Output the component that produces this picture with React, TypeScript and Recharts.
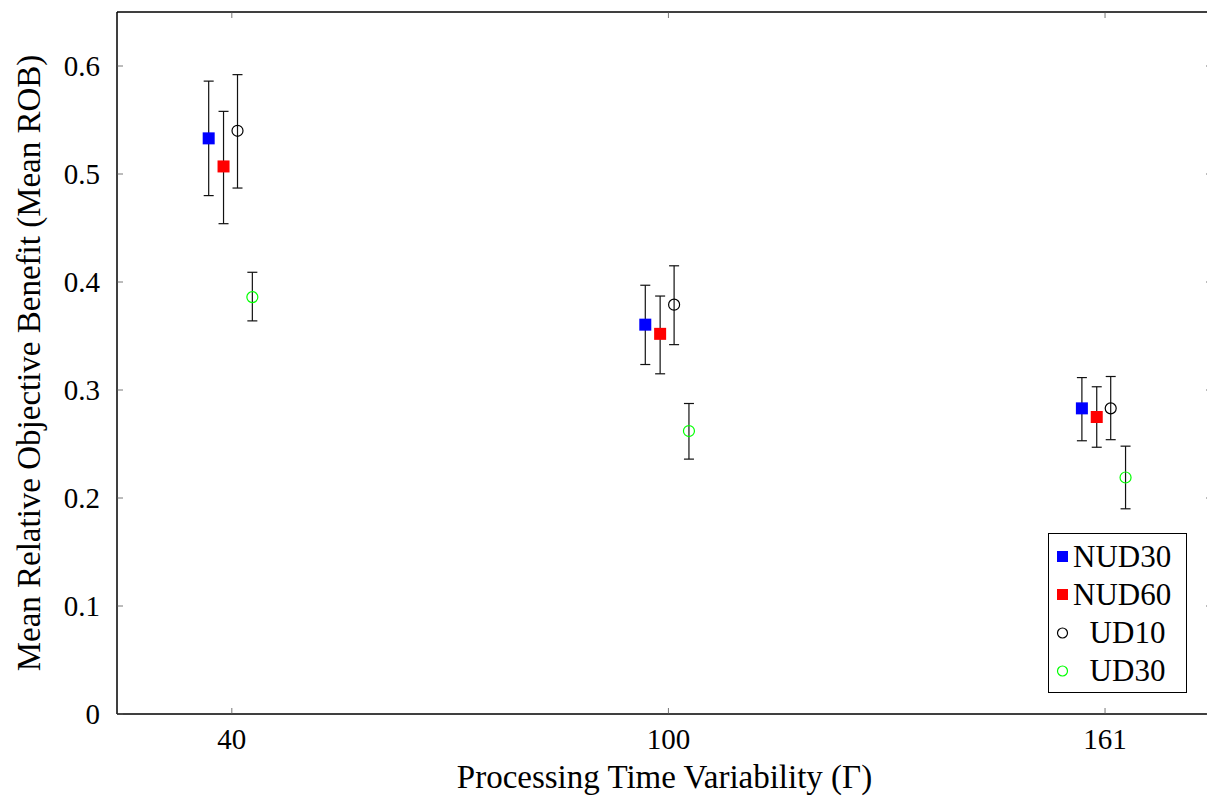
import React from 'react';
import { ComposedChart, Scatter, XAxis, YAxis, ErrorBar, ReferenceArea } from 'recharts';

// ---- data ----
const categories = ['40', '100', '161'];
const yTicks = [0, 0.1, 0.2, 0.3, 0.4, 0.5, 0.6];

const nud30Mean = [0.533, 0.3605, 0.283];
const nud30Low = [0.48, 0.3236, 0.253];
const nud30High = [0.586, 0.397, 0.3115];

const nud60Mean = [0.507, 0.352, 0.275];
const nud60Low = [0.454, 0.315, 0.247];
const nud60High = [0.558, 0.387, 0.303];

const ud10Mean = [0.54, 0.379, 0.283];
const ud10Low = [0.487, 0.342, 0.254];
const ud10High = [0.592, 0.415, 0.3125];

const ud30Mean = [0.386, 0.262, 0.219];
const ud30Low = [0.364, 0.236, 0.19];
const ud30High = [0.409, 0.2875, 0.248];

type Series = {
  name: string;
  color: string;
  shape: 'square' | 'circle';
  shift: number;
  mean: number[];
  low: number[];
  high: number[];
};

const series: Series[] = [
  { name: 'NUD30', color: '#0000ff', shape: 'square', shift: -0.053, mean: nud30Mean, low: nud30Low, high: nud30High },
  { name: 'NUD60', color: '#ff0000', shape: 'square', shift: -0.019, mean: nud60Mean, low: nud60Low, high: nud60High },
  { name: 'UD10', color: '#000000', shape: 'circle', shift: 0.013, mean: ud10Mean, low: ud10Low, high: ud10High },
  { name: 'UD30', color: '#00ff00', shape: 'circle', shift: 0.047, mean: ud30Mean, low: ud30Low, high: ud30High },
];

const buildData = (s: Series) =>
  categories.map((_, i) => ({
    x: i + s.shift,
    y: s.mean[i],
    err: [s.mean[i] - s.low[i], s.high[i] - s.mean[i]],
  }));

const FONT = '"Liberation Serif", "Times New Roman", serif';
const X_DOMAIN: [number, number] = [-0.263, 2.245];
const Y_DOMAIN: [number, number] = [0, 0.65];

const makeShape = (s: Series) => (props: any) => {
  const { cx, cy } = props;
  if (cx == null || cy == null) return <g />;
  if (s.shape === 'square') {
    return <rect x={cx - 6} y={cy - 6} width={12} height={12} fill={s.color} />;
  }
  return <circle cx={cx} cy={cy} r={5.5} fill="none" stroke={s.color} strokeWidth={1.2} />;
};

const LegendBox = () => (
  <div
    style={{
      position: 'absolute',
      left: 1040,
      top: 525,
      border: '1px solid #000',
      background: '#fff',
      width: 137,
      height: 158,
      fontFamily: FONT,
      fontSize: 31,
      color: '#000',
    }}
  >
    {series.map((s, i) => (
      <div
        key={s.name}
        style={{ position: 'absolute', left: 0, top: 4 + i * 38, height: 38, width: 137, display: 'flex', alignItems: 'center' }}
      >
        <svg width={24} height={38} style={{ flex: 'none' }}>
          {s.shape === 'square' ? (
            <rect x={8} y={13} width={11} height={11} fill={s.color} />
          ) : (
            <circle cx={13.5} cy={19} r={5} fill="none" stroke={s.color} strokeWidth={1.2} />
          )}
        </svg>
        <span style={{ flex: 1, textAlign: s.shape === 'square' ? 'left' : 'center', paddingRight: s.shape === 'square' ? 0 : 4, lineHeight: '38px', whiteSpace: 'nowrap' }}>
          {s.name}
        </span>
      </div>
    ))}
  </div>
);

const emptyTick = () => <g />;

const YLabel = (props: any) => {
  const vb = props.viewBox || {};
  const cy = (vb.y ?? 3) + (vb.height ?? 703) / 2;
  const cx = 21;
  return (
    <text
      x={cx}
      y={cy}
      transform={`rotate(-90, ${cx}, ${cy})`}
      textAnchor="middle"
      dominantBaseline="central"
      fill="#000"
      fontFamily={FONT}
      fontSize={33}
    >
      Mean Relative Objective Benefit (Mean ROB)
    </text>
  );
};

export default function App() {
  return (
    <div style={{ position: 'relative', width: 1207, height: 796, background: '#fff' }}>
      <ComposedChart width={1207} height={796} margin={{ top: 3, right: 2, bottom: 0, left: 0 }}>
        <XAxis
          type="number"
          dataKey="x"
          domain={X_DOMAIN}
          allowDataOverflow
          ticks={[0, 1, 2]}
          tickFormatter={(v: number) => categories[Math.round(v)]}
          tickSize={-6}
          tickMargin={20}
          height={90}
          tick={{ fill: '#000', fontFamily: FONT, fontSize: 29 }}
          axisLine={{ stroke: '#000', strokeWidth: 1 }}
          tickLine={{ stroke: '#555', strokeWidth: 0.8 }}
          label={{ value: 'Processing Time Variability (Γ)', position: 'insideBottom', offset: 16, fill: '#000', fontFamily: FONT, fontSize: 33 }}
        />
        <XAxis
          xAxisId="top"
          orientation="top"
          type="number"
          dataKey="x"
          domain={X_DOMAIN}
          allowDataOverflow
          ticks={[0, 1, 2]}
          tickSize={-6}
          height={1}
          tick={emptyTick}
          axisLine={{ stroke: '#000', strokeWidth: 1 }}
          tickLine={{ stroke: '#555', strokeWidth: 0.8 }}
        />
        <YAxis
          type="number"
          domain={Y_DOMAIN}
          allowDataOverflow
          ticks={yTicks}
          tickFormatter={(v: number) => (v === 0 ? '0' : v.toFixed(1))}
          tickSize={-6}
          tickMargin={23}
          width={109}
          tick={{ fill: '#000', fontFamily: FONT, fontSize: 29 }}
          axisLine={{ stroke: '#000', strokeWidth: 1 }}
          tickLine={{ stroke: '#555', strokeWidth: 0.8 }}
          label={<YLabel />}
        />
        <YAxis
          yAxisId="right"
          orientation="right"
          type="number"
          domain={Y_DOMAIN}
          allowDataOverflow
          ticks={yTicks}
          tickSize={-6}
          width={1}
          tick={emptyTick}
          axisLine={{ stroke: '#000', strokeWidth: 1 }}
          tickLine={{ stroke: '#555', strokeWidth: 0.8 }}
        />
        <ReferenceArea
          x1={X_DOMAIN[0]}
          x2={X_DOMAIN[1]}
          y1={Y_DOMAIN[0]}
          y2={Y_DOMAIN[1]}
          fill="none"
          stroke="#000"
          strokeWidth={1}
          ifOverflow="visible"
        />
        {series.map((s) => (
          <Scatter
            key={s.name}
            name={s.name}
            data={buildData(s)}
            dataKey="y"
            fill={s.color}
            shape={makeShape(s)}
            isAnimationActive={false}
          >
            <ErrorBar dataKey="err" direction="y" width={5} stroke="#111" strokeWidth={1.2} isAnimationActive={false} />
          </Scatter>
        ))}
      </ComposedChart>
      <LegendBox />
    </div>
  );
}
